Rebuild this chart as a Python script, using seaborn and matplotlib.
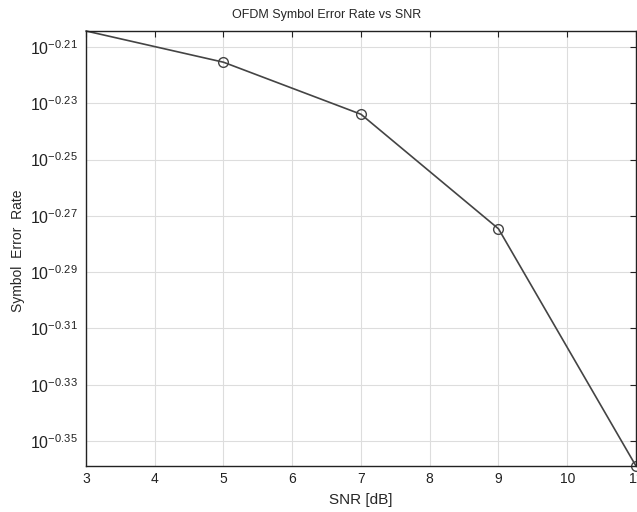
import numpy as np
import pandas as pd
import seaborn as sns
import matplotlib.pyplot as plt
from matplotlib.ticker import FixedLocator, FixedFormatter, NullLocator

# values (log10 of symbol error rate)
snr_db = [3, 5, 7, 9, 11]
log_ser = [-0.2043, -0.2154, -0.2339, -0.2746, -0.3589]
tick_exps = [-0.21, -0.23, -0.25, -0.27, -0.29, -0.31, -0.33, -0.35]
x_ticks = [3, 4, 5, 6, 7, 8, 9, 10, 11]

df = pd.DataFrame({"snr": snr_db, "ser": [10 ** v for v in log_ser]})

sns.set_style("white")
plt.rcParams["font.family"] = ["Liberation Sans", "DejaVu Sans"]
plt.rcParams["mathtext.default"] = "regular"

fig = plt.figure(figsize=(6.37, 5.12), dpi=100)
ax = fig.add_axes([0.135, 0.0898, 0.8634, 0.8497])

sns.lineplot(
    x="snr", y="ser", data=df, ax=ax, color="#444444", linewidth=1.2,
    marker="o", markersize=7, markerfacecolor="none", markeredgecolor="#444444",
    markeredgewidth=1.0, markevery=[1, 2, 3, 4], clip_on=False,
)

ax.set_yscale("log")
ax.set_xlim(3, 11)
ax.set_ylim(10 ** log_ser[-1], 10 ** log_ser[0])
ax.xaxis.set_major_locator(FixedLocator(x_ticks))
ax.yaxis.set_major_locator(FixedLocator([10 ** e for e in tick_exps]))
ax.yaxis.set_major_formatter(FixedFormatter(["$10^{%g}$" % e for e in tick_exps]))
ax.yaxis.set_minor_locator(NullLocator())

ax.grid(True, color="#dddddd", linewidth=0.8)
ax.tick_params(direction="in", top=True, right=True, length=4, width=0.8,
               labelsize=10, colors="#222222", pad=4)
ax.tick_params(axis="y", labelsize=11.5, pad=6)
for s in ax.spines.values():
    s.set_color("#222222")
    s.set_linewidth(1.0)

ax.set_title("OFDM Symbol Error Rate vs SNR", fontsize=9, x=0.438, pad=9)
ax.set_xlabel("SNR [dB]", fontsize=11, labelpad=5)
ax.set_ylabel("Symbol  Error  Rate", fontsize=10)
ax.yaxis.set_label_coords(-0.11, 0.494)

plt.savefig("out.png", dpi=100)
